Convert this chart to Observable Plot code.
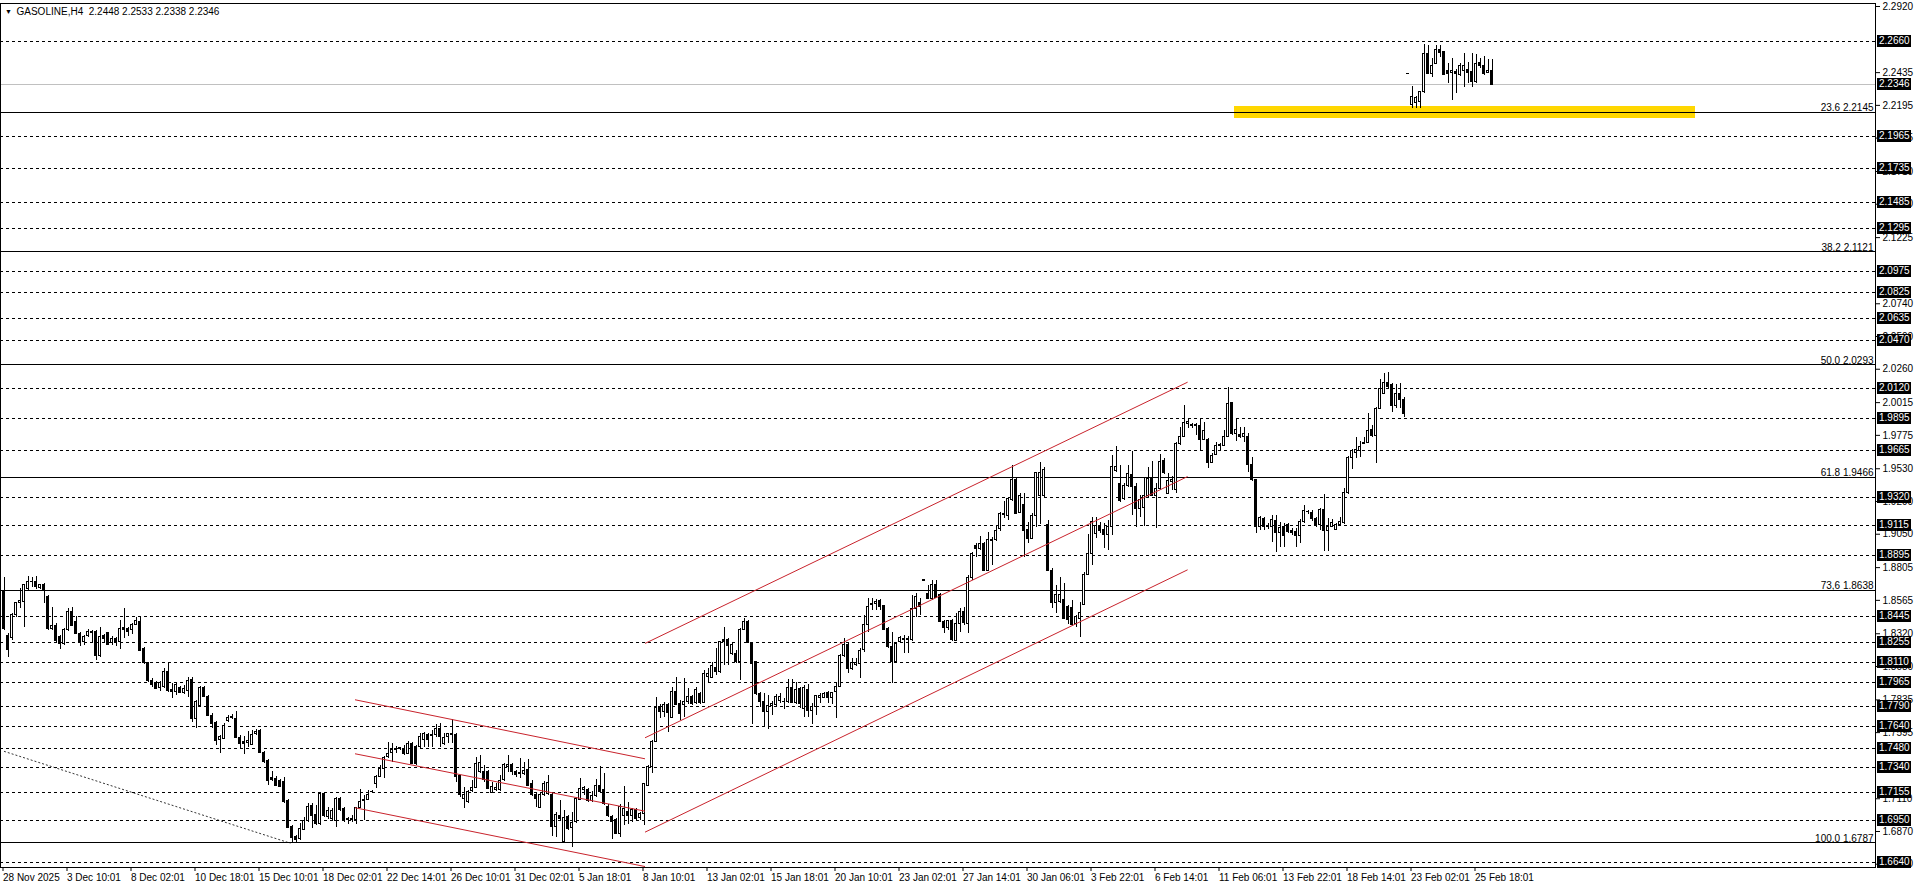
<!DOCTYPE html>
<html><head><meta charset="utf-8">
<script src="https://cdn.jsdelivr.net/npm/d3@7"></script>
<script src="https://cdn.jsdelivr.net/npm/@observablehq/plot@0.6"></script>
<style>html,body{margin:0;padding:0;background:#fff;overflow:hidden}#chart svg{display:block}</style>
</head><body><div id="chart"></div>
<script>
// ---- data (H4 bars, index 0 = 28 Nov 2025) ----
const opens = [
1.8637,1.8300,1.8290,1.8454,1.8544,1.8551,1.8649,1.8696,1.8696,1.8657,
1.8681,1.8593,1.8356,1.8380,1.8295,1.8246,1.8344,1.8478,1.8405,1.8319,
1.8258,1.8300,1.8324,1.8331,1.8160,1.8300,1.8324,1.8251,1.8282,1.8258,
1.8361,1.8356,1.8348,1.8385,1.8405,1.8207,1.8104,1.7977,1.7962,1.7923,
1.7928,1.8043,1.7908,1.7891,1.7923,1.7886,1.7903,1.7982,1.7696,1.7789,
1.7923,1.7855,1.7720,1.7664,1.7542,1.7549,1.7683,1.7703,1.7696,1.7556,
1.7529,1.7517,1.7505,1.7586,1.7605,1.7449,1.7390,1.7263,1.7256,1.7238,
1.7236,1.7092,1.6901,1.6833,1.6815,1.6881,1.6950,1.7060,1.6994,1.6925,
1.7146,1.6974,1.6962,1.6950,1.7110,1.7036,1.6961,1.6956,1.6951,1.7044,
1.7090,1.7102,1.7156,1.7220,1.7269,1.7330,1.7415,1.7445,1.7464,1.7472,
1.7476,1.7440,1.7513,1.7489,1.7489,1.7538,1.7574,1.7569,1.7574,1.7623,
1.7513,1.7562,1.7577,1.7574,1.7274,1.7110,1.7085,1.7166,1.7190,1.7305,
1.7305,1.7305,1.7151,1.7171,1.7171,1.7244,1.7342,1.7354,1.7303,1.7288,
1.7288,1.7318,1.7215,1.7134,1.7044,1.7134,1.7142,1.7134,1.6902,1.6987,
1.6792,1.6975,1.6895,1.6939,1.7102,1.7171,1.7171,1.7093,1.7127,1.7207,
1.7171,1.7053,1.6975,1.6951,1.6853,1.6987,1.7012,1.6987,1.7024,1.6970,
1.6999,1.7207,1.7342,1.7525,1.7782,1.7745,1.7801,1.7704,1.7892,1.7806,
1.7801,1.7819,1.7855,1.7811,1.7875,1.7811,1.8002,1.7997,1.8070,1.8039,
1.8271,1.8271,1.8173,1.8173,1.8112,1.8349,1.8405,1.8246,1.8112,1.7880,
1.7819,1.7745,1.7787,1.7801,1.7826,1.7823,1.7819,1.7924,1.7811,1.7916,
1.7770,1.7909,1.7753,1.7782,1.7850,1.7850,1.7885,1.7850,1.7892,1.7933,
1.8154,1.8234,1.8063,1.8088,1.8100,1.8198,1.8381,1.8528,1.8535,1.8559,
1.8520,1.8356,1.8222,1.8112,1.8259,1.8283,1.8271,1.8271,1.8503,1.8547,
1.8712,1.8613,1.8577,1.8679,1.8601,1.8405,1.8361,1.8410,1.8270,1.8392,
1.8478,1.8392,1.8730,1.8967,1.8942,1.8979,1.8783,1.9008,1.9008,1.9089,
1.9194,1.9187,1.9302,1.9448,1.9204,1.9267,1.9082,1.9016,1.9187,1.9333,
1.9333,1.9121,1.8783,1.8544,1.8551,1.8568,1.8519,1.8509,1.8392,1.8429,
1.8534,1.8754,1.8906,1.9052,1.9106,1.9082,1.9047,1.9101,1.9517,1.9419,
1.9309,1.9407,1.9487,1.9399,1.9236,1.9243,1.9333,1.9456,1.9333,1.9382,
1.9585,1.9346,1.9431,1.9375,1.9708,1.9761,1.9859,1.9844,1.9842,1.9847,
1.9742,1.9742,1.9571,1.9634,1.9695,1.9700,1.9766,2.0011,1.9786,1.9781,
1.9766,1.9766,1.9561,1.9444,1.9106,1.9163,1.9106,1.9102,1.9150,1.9057,
1.9102,1.9114,1.9070,1.9065,1.9040,1.9138,1.9212,1.9204,1.9163,1.9114,
1.9229,1.9072,1.9106,1.9082,1.9114,1.9131,1.9351,1.9610,1.9644,1.9659,
1.9715,1.9718,1.9811,1.9767,1.9969,2.0080,2.0158,2.0141,1.9987,2.0075,
2.0036,2.2427,2.2201,2.2211,2.2218,2.2292,2.2573,2.2426,2.2499,2.2602,
2.2585,2.2446,2.2431,2.2438,2.2421,2.2446,2.2451,2.2438,2.2365,2.2504,
2.2487,2.2431,2.2448];
const highs = [
1.8735,1.8319,1.8466,1.8551,1.8649,1.8681,1.8740,1.8735,1.8740,1.8681,
1.8686,1.8600,1.8515,1.8392,1.8307,1.8356,1.8502,1.8515,1.8446,1.8331,
1.8307,1.8348,1.8344,1.8344,1.8368,1.8314,1.8331,1.8300,1.8295,1.8417,
1.8502,1.8368,1.8392,1.8436,1.8441,1.8216,1.8111,1.7989,1.7972,1.7972,
1.8062,1.8104,1.7952,1.7957,1.7933,1.7940,1.7996,1.7996,1.7830,1.7933,
1.7933,1.7867,1.7732,1.7674,1.7573,1.7659,1.7720,1.7727,1.7752,1.7573,
1.7566,1.7605,1.7610,1.7615,1.7615,1.7458,1.7400,1.7312,1.7273,1.7248,
1.7268,1.7101,1.6913,1.6838,1.6925,1.6974,1.7077,1.7072,1.7060,1.7150,
1.7150,1.7048,1.7035,1.7121,1.7122,1.7044,1.6975,1.6987,1.7049,1.7176,
1.7134,1.7171,1.7171,1.7281,1.7354,1.7420,1.7525,1.7518,1.7494,1.7489,
1.7501,1.7533,1.7525,1.7501,1.7591,1.7599,1.7591,1.7611,1.7655,1.7665,
1.7586,1.7591,1.7689,1.7586,1.7281,1.7190,1.7171,1.7244,1.7415,1.7428,
1.7354,1.7318,1.7232,1.7220,1.7281,1.7366,1.7428,1.7366,1.7318,1.7403,
1.7379,1.7396,1.7244,1.7146,1.7146,1.7239,1.7281,1.7146,1.7012,1.7097,
1.7024,1.6987,1.7012,1.7122,1.7256,1.7200,1.7183,1.7166,1.7249,1.7347,
1.7298,1.7068,1.6987,1.6963,1.7068,1.7200,1.7085,1.7036,1.7036,1.7012,
1.7220,1.7354,1.7537,1.7855,1.7801,1.7819,1.7811,1.7924,1.7997,1.7831,
1.7990,1.7916,1.7867,1.7924,1.7892,1.8051,1.8063,1.8112,1.8210,1.8266,
1.8369,1.8283,1.8246,1.8198,1.8356,1.8430,1.8418,1.8259,1.8119,1.7892,
1.7885,1.7867,1.7826,1.7875,1.7880,1.7843,1.7982,1.7982,1.7965,1.7924,
1.7941,1.7948,1.7806,1.7867,1.7880,1.7892,1.7899,1.7892,1.7965,1.8168,
1.8283,1.8246,1.8136,1.8136,1.8210,1.8454,1.8577,1.8577,1.8569,1.8569,
1.8528,1.8369,1.8332,1.8246,1.8300,1.8307,1.8300,1.8601,1.8613,1.8577,
1.8716,1.8674,1.8711,1.8711,1.8613,1.8418,1.8418,1.8425,1.8466,1.8502,
1.8514,1.8747,1.8918,1.8984,1.9033,1.8991,1.9065,1.9028,1.9113,1.9211,
1.9292,1.9321,1.9554,1.9456,1.9346,1.9346,1.9138,1.9204,1.9505,1.9578,
1.9536,1.9150,1.8796,1.8673,1.8735,1.8690,1.8527,1.8563,1.8453,1.8551,
1.8771,1.9047,1.9175,1.9170,1.9138,1.9126,1.9150,1.9627,1.9693,1.9554,
1.9419,1.9554,1.9659,1.9419,1.9333,1.9456,1.9536,1.9585,1.9419,1.9634,
1.9602,1.9492,1.9473,1.9725,1.9830,1.9994,1.9888,1.9859,1.9864,1.9888,
1.9871,1.9749,1.9639,1.9725,1.9717,1.9810,2.0123,2.0018,1.9896,1.9835,
1.9830,1.9791,1.9615,1.9448,1.9180,1.9175,1.9126,1.9187,1.9187,1.9138,
1.9126,1.9126,1.9089,1.9089,1.9155,1.9260,1.9224,1.9224,1.9175,1.9236,
1.9341,1.9163,1.9155,1.9126,1.9170,1.9383,1.9620,1.9669,1.9757,1.9732,
1.9762,1.9938,1.9847,1.9982,2.0182,2.0231,2.0238,2.0153,2.0148,2.0153,
2.0050,2.2430,2.2333,2.2260,2.2299,2.2641,2.2634,2.2536,2.2634,2.2634,
2.2592,2.2504,2.2536,2.2456,2.2500,2.2573,2.2512,2.2573,2.2568,2.2536,
2.2553,2.2529,2.2533];
const lows = [
1.8344,1.8148,1.8270,1.8441,1.8502,1.8368,1.8637,1.8661,1.8642,1.8642,
1.8544,1.8344,1.8344,1.8251,1.8202,1.8234,1.8339,1.8373,1.8314,1.8226,
1.8234,1.8290,1.8258,1.8124,1.8148,1.8246,1.8234,1.8234,1.8226,1.8202,
1.8282,1.8300,1.8314,1.8380,1.8192,1.8094,1.7965,1.7928,1.7908,1.7896,
1.7916,1.7891,1.7842,1.7867,1.7879,1.7874,1.7850,1.7671,1.7622,1.7781,
1.7850,1.7713,1.7622,1.7500,1.7439,1.7542,1.7671,1.7688,1.7549,1.7476,
1.7434,1.7488,1.7498,1.7573,1.7439,1.7370,1.7207,1.7238,1.7199,1.7194,
1.7072,1.6889,1.6784,1.6791,1.6803,1.6877,1.6938,1.6889,1.6913,1.6913,
1.6974,1.6955,1.6950,1.6901,1.7017,1.6939,1.6921,1.6939,1.6921,1.7036,
1.6951,1.7097,1.7146,1.7183,1.7264,1.7256,1.7403,1.7379,1.7445,1.7464,
1.7428,1.7432,1.7362,1.7354,1.7476,1.7489,1.7489,1.7489,1.7562,1.7489,
1.7501,1.7513,1.7513,1.7232,1.7122,1.7036,1.7078,1.7159,1.7183,1.7298,
1.7232,1.7176,1.7146,1.7166,1.7166,1.7239,1.7305,1.7281,1.7264,1.7256,
1.7281,1.7200,1.7127,1.7049,1.7036,1.7127,1.7134,1.6833,1.6829,1.6951,
1.6787,1.6877,1.6755,1.6931,1.7097,1.7134,1.7085,1.7085,1.7122,1.7146,
1.7061,1.6975,1.6809,1.6848,1.6824,1.6914,1.6921,1.6939,1.6951,1.6951,
1.6914,1.7200,1.7298,1.7520,1.7696,1.7708,1.7599,1.7696,1.7794,1.7684,
1.7709,1.7801,1.7794,1.7801,1.7801,1.7806,1.7953,1.7990,1.8014,1.8031,
1.8088,1.8088,1.8161,1.8100,1.7978,1.8344,1.8246,1.7655,1.7867,1.7777,
1.7630,1.7616,1.7721,1.7787,1.7811,1.7762,1.7811,1.7806,1.7801,1.7770,
1.7709,1.7709,1.7655,1.7721,1.7806,1.7843,1.7811,1.7801,1.7696,1.7924,
1.8144,1.8026,1.8051,1.8080,1.7990,1.8185,1.8332,1.8491,1.8491,1.8491,
1.8344,1.8210,1.7953,1.8100,1.8246,1.8173,1.8173,1.8266,1.8442,1.8454,
1.8708,1.8572,1.8564,1.8577,1.8400,1.8320,1.8344,1.8262,1.8265,1.8331,
1.8380,1.8324,1.8710,1.8881,1.8930,1.8778,1.8778,1.8820,1.8998,1.9072,
1.9162,1.9150,1.9292,1.9194,1.9199,1.8881,1.8984,1.9008,1.9101,1.9121,
1.9321,1.8778,1.8502,1.8466,1.8544,1.8421,1.8387,1.8373,1.8368,1.8294,
1.8527,1.8747,1.8820,1.9016,1.9052,1.8942,1.8930,1.9040,1.9505,1.9285,
1.9297,1.9395,1.9187,1.9101,1.9174,1.9106,1.9321,1.9326,1.9089,1.9370,
1.9487,1.9341,1.9370,1.9346,1.9700,1.9756,1.9822,1.9822,1.9774,1.9664,
1.9737,1.9529,1.9566,1.9627,1.9664,1.9693,1.9761,1.9774,1.9732,1.9749,
1.9725,1.9505,1.9439,1.9057,1.9077,1.9077,1.9082,1.8991,1.8918,1.8955,
1.8955,1.9053,1.9040,1.8955,1.8979,1.9126,1.9194,1.9146,1.9102,1.9077,
1.8925,1.8925,1.9102,1.9077,1.9106,1.9121,1.9341,1.9522,1.9603,1.9615,
1.9708,1.9713,1.9757,1.9571,1.9962,2.0075,2.0116,1.9945,1.9969,1.9969,
1.9903,2.2420,2.2169,2.2169,2.2169,2.2284,2.2421,2.2402,2.2495,2.2548,
2.2414,2.2353,2.2231,2.2279,2.2407,2.2323,2.2353,2.2328,2.2358,2.2463,
2.2414,2.2426,2.2338];
const closes = [
1.8356,1.8202,1.8454,1.8544,1.8559,1.8674,1.8698,1.8701,1.8661,1.8674,
1.8637,1.8356,1.8380,1.8270,1.8246,1.8344,1.8478,1.8380,1.8319,1.8258,
1.8295,1.8331,1.8331,1.8160,1.8295,1.8285,1.8241,1.8282,1.8258,1.8356,
1.8348,1.8331,1.8385,1.8412,1.8197,1.8104,1.7972,1.7947,1.7916,1.7957,
1.8038,1.7899,1.7894,1.7943,1.7886,1.7913,1.7977,1.7696,1.7818,1.7923,
1.7855,1.7720,1.7659,1.7537,1.7561,1.7647,1.7703,1.7713,1.7556,1.7512,
1.7515,1.7537,1.7581,1.7603,1.7444,1.7378,1.7243,1.7248,1.7207,1.7199,
1.7084,1.6896,1.6823,1.6808,1.6889,1.6950,1.7048,1.6987,1.6925,1.7146,
1.6987,1.7023,1.7023,1.7109,1.7024,1.6951,1.6953,1.6961,1.7044,1.7085,
1.7102,1.7134,1.7161,1.7269,1.7330,1.7410,1.7440,1.7464,1.7476,1.7481,
1.7440,1.7513,1.7366,1.7366,1.7562,1.7582,1.7538,1.7579,1.7623,1.7562,
1.7557,1.7582,1.7584,1.7269,1.7134,1.7134,1.7159,1.7190,1.7366,1.7371,
1.7244,1.7183,1.7195,1.7190,1.7239,1.7354,1.7354,1.7305,1.7283,1.7298,
1.7313,1.7207,1.7134,1.7107,1.7134,1.7220,1.7225,1.6902,1.6992,1.6963,
1.6970,1.6890,1.6934,1.7110,1.7183,1.7190,1.7093,1.7127,1.7207,1.7159,
1.7073,1.6980,1.6939,1.6853,1.7053,1.7036,1.6980,1.7024,1.6963,1.6995,
1.7215,1.7342,1.7525,1.7777,1.7745,1.7794,1.7738,1.7892,1.7801,1.7733,
1.7819,1.7855,1.7806,1.7909,1.7811,1.8026,1.8022,1.8080,1.8039,1.8259,
1.8256,1.8227,1.8234,1.8112,1.8349,1.8405,1.8251,1.8095,1.7880,1.7819,
1.7745,1.7787,1.7806,1.7855,1.7855,1.7816,1.7924,1.7811,1.7904,1.7806,
1.7924,1.7753,1.7782,1.7860,1.7860,1.7875,1.7850,1.7885,1.7933,1.8154,
1.8234,1.8063,1.8105,1.8105,1.8193,1.8381,1.8515,1.8540,1.8552,1.8515,
1.8349,1.8222,1.8112,1.8242,1.8290,1.8271,1.8283,1.8503,1.8589,1.8515,
1.8710,1.8577,1.8679,1.8581,1.8405,1.8361,1.8410,1.8275,1.8392,1.8478,
1.8397,1.8730,1.8906,1.8942,1.8979,1.8783,1.9008,1.9003,1.9077,1.9199,
1.9201,1.9309,1.9444,1.9199,1.9333,1.9077,1.9016,1.9187,1.9497,1.9497,
1.9522,1.8783,1.8544,1.8607,1.8607,1.8429,1.8421,1.8387,1.8441,1.8470,
1.8754,1.8906,1.9138,1.9113,1.9077,1.9047,1.9101,1.9546,1.9541,1.9297,
1.9407,1.9492,1.9399,1.9236,1.9302,1.9333,1.9456,1.9333,1.9382,1.9578,
1.9497,1.9439,1.9444,1.9712,1.9761,1.9864,1.9871,1.9849,1.9849,1.9742,
1.9805,1.9571,1.9627,1.9700,1.9703,1.9766,2.0006,1.9786,1.9815,1.9766,
1.9786,1.9554,1.9444,1.9106,1.9170,1.9106,1.9102,1.9155,1.9057,1.9097,
1.9040,1.9065,1.9060,1.9040,1.9138,1.9219,1.9216,1.9163,1.9114,1.9229,
1.9072,1.9106,1.9131,1.9114,1.9138,1.9351,1.9610,1.9659,1.9664,1.9693,
1.9720,1.9806,1.9767,1.9969,2.0116,2.0158,2.0133,1.9987,2.0075,2.0036,
1.9928,2.2424,2.2255,2.2250,2.2292,2.2573,2.2426,2.2487,2.2602,2.2578,
2.2421,2.2426,2.2446,2.2426,2.2487,2.2487,2.2431,2.2365,2.2499,2.2480,
2.2426,2.2446,2.2346];

// x-axis: bar index of each time label, and the labels
const xTickBars = [0,16,32,48,64,80,96,112,128,144,160,176,192,208,224,240,256,272,288,304,320,336,352,368];
const xLabels = ["28 Nov 2025","3 Dec 10:01","8 Dec 02:01","10 Dec 18:01","15 Dec 10:01","18 Dec 02:01",
  "22 Dec 14:01","26 Dec 10:01","31 Dec 02:01","5 Jan 18:01","8 Jan 10:01","13 Jan 02:01",
  "15 Jan 18:01","20 Jan 10:01","23 Jan 02:01","27 Jan 14:01","30 Jan 06:01","3 Feb 22:01",
  "6 Feb 14:01","11 Feb 06:01","13 Feb 22:01","18 Feb 14:01","23 Feb 02:01","25 Feb 18:01"];
// price-axis tick values (those fully hidden behind the price tags are left out)
const yTicks = [2.2920,2.2435,2.2195,2.1955,2.1710,2.1470,2.1225,2.0740,2.0500,2.0260,
  2.0015,1.9775,1.9530,1.9290,1.9050,1.8805,1.8565,1.8320,1.8080,1.7835,1.7595,1.7110,1.6870,1.6630];
// horizontal support / resistance levels (dashed)
const dashedLevels = [2.2660,2.1965,2.1735,2.1485,2.1295,2.0975,2.0825,2.0635,2.0470,2.0120,1.9895,1.9665,
  1.9320,1.9115,1.8895,1.8445,1.8255,1.8110,1.7965,1.7790,1.7640,1.7480,1.7340,1.7155,1.6950,1.6640];
// Fibonacci levels
const fibPercents = ["23.6","38.2","50.0","61.8","73,6","100.0"];
const fibPrices = [2.2145,2.1121,2.0293,1.9466,1.8638,1.6787];
const bidPrice = 2.2346;
// yellow zone
const zoneBars = [307.6, 422.9];
const zonePrices = [2.2095, 2.2187];
// descending channel (bar range, [start, end] prices)
const descBars = [87.75, 160.25];
const descUpper = [1.7836, 1.7403];
const descMiddle = [1.7440, 1.7019];
const descLower = [1.7044, 1.6613];
// ascending channel
const ascBars = [160.25, 295.9];
const ascUpper = [1.8249, 2.0165];
const ascMiddle = [1.7557, 1.9473];
const ascLower = [1.6865, 1.8789];
// fib trend line (dotted)
const fibTrendBars = [0, 71.6];
const fibTrendPrices = [1.7458, 1.6784];
const titleText = "GASOLINE,H4  2.2448 2.2533 2.2338 2.2346";

// ---- derived tables ----
const candles = opens.map((o, i) => ({i, o, h: highs[i], l: lows[i], c: closes[i]}));
const seg = (bars, p) => ({x1: bars[0], x2: bars[1], y1: p[0], y2: p[1]});
const channelSegs = [seg(descBars, descUpper), seg(descBars, descMiddle), seg(descBars, descLower),
  seg(ascBars, ascUpper), seg(ascBars, ascMiddle), seg(ascBars, ascLower)];
const fibRows = fibPrices.map((p, k) => ({p, label: fibPercents[k] + " " + p.toFixed(4)}));

const W = 1916, H = 888, MR = 41;
const FONT = "'Liberation Sans', Arial, sans-serif";
const RED = "#c8232c";

const chart = Plot.plot({
  width: W, height: H,
  marginLeft: 0, marginRight: MR, marginTop: 3, marginBottom: 21,
  x: {type: "linear", domain: [-0.875, 467.875], axis: null},
  y: {type: "linear", domain: [1.66059, 2.2942], axis: null},
  style: {fontFamily: FONT, fontSize: "10px", color: "#000", background: "#fff", overflow: "visible"},
  marks: [
    Plot.rect([{x1: zoneBars[0], x2: zoneBars[1], y1: zonePrices[0], y2: zonePrices[1]}],
      {x1: "x1", x2: "x2", y1: "y1", y2: "y2", fill: "#ffd700", shapeRendering: "crispEdges"}),
    Plot.ruleY(dashedLevels, {stroke: "#000", strokeDasharray: "3,3", shapeRendering: "crispEdges"}),
    Plot.ruleY([bidPrice], {stroke: "#c0c0c0", shapeRendering: "crispEdges"}),
    Plot.ruleY(fibPrices, {stroke: "#000", shapeRendering: "crispEdges"}),
    Plot.text(fibRows, {y: "p", text: "label", frameAnchor: "right", textAnchor: "end", lineAnchor: "bottom", dx: -2, dy: -1, fill: "#000"}),
    Plot.ruleX(candles, {x: "i", y1: "l", y2: "h", stroke: "#000", shapeRendering: "crispEdges"}),
    Plot.rect(candles, {filter: d => d.c >= d.o, x1: d => d.i - 0.25, x2: d => d.i + 0.25, y1: "o", y2: "c", fill: "#fff", stroke: "#000", shapeRendering: "crispEdges"}),
    Plot.rect(candles, {filter: d => d.c < d.o, x1: d => d.i - 0.25, x2: d => d.i + 0.25, y1: "o", y2: "c", fill: "#000", stroke: "#000", shapeRendering: "crispEdges"}),
    Plot.link(channelSegs, {x1: "x1", y1: "y1", x2: "x2", y2: "y2", stroke: RED, strokeWidth: 1}),
    Plot.link([seg(fibTrendBars, fibTrendPrices)], {x1: "x1", y1: "y1", x2: "x2", y2: "y2", stroke: "#000", strokeDasharray: "2,2", strokeWidth: 0.8}),
    Plot.frame({stroke: "#000", shapeRendering: "crispEdges"}),
    Plot.axisY(yTicks, {anchor: "right", tickSize: 4, tickPadding: 3, tickFormat: d => d.toFixed(4), label: null, fill: "#000", stroke: "#000"}),
    Plot.axisX(xTickBars, {anchor: "bottom", tickSize: 4, tickPadding: 2, tickFormat: d => xLabels[xTickBars.indexOf(d)], textAnchor: "start", dx: -1, label: null, fill: "#000"}),
    Plot.text(["▼"], {frameAnchor: "top-left", dx: 8, dy: 8, text: d => d, fontSize: 7, textAnchor: "middle", lineAnchor: "middle", fill: "#000"}),
    Plot.text([titleText], {frameAnchor: "top-left", dx: 16, dy: 8, text: d => d, textAnchor: "start", lineAnchor: "middle", fill: "#000"})
  ]
});

// price tags for horizontal lines, placed with the chart's own y scale
const ys = chart.scale("y");
const svg = d3.select(chart);
const right = W - MR;
const tags = svg.append("g").attr("font-family", FONT).attr("font-size", 10).attr("text-anchor", "start");
for (const p of [...dashedLevels, bidPrice]) {
  const y = Math.round(ys.apply(p));
  tags.append("rect").attr("x", right + 2).attr("y", y - 6).attr("width", 34).attr("height", 12).attr("fill", "#000");
  tags.append("text").attr("x", right + 4).attr("y", y).attr("dy", "0.34em").attr("text-anchor", "start").attr("fill", "#fff").text(p.toFixed(4));
}
document.getElementById("chart").appendChild(chart);
</script>
</body></html>
